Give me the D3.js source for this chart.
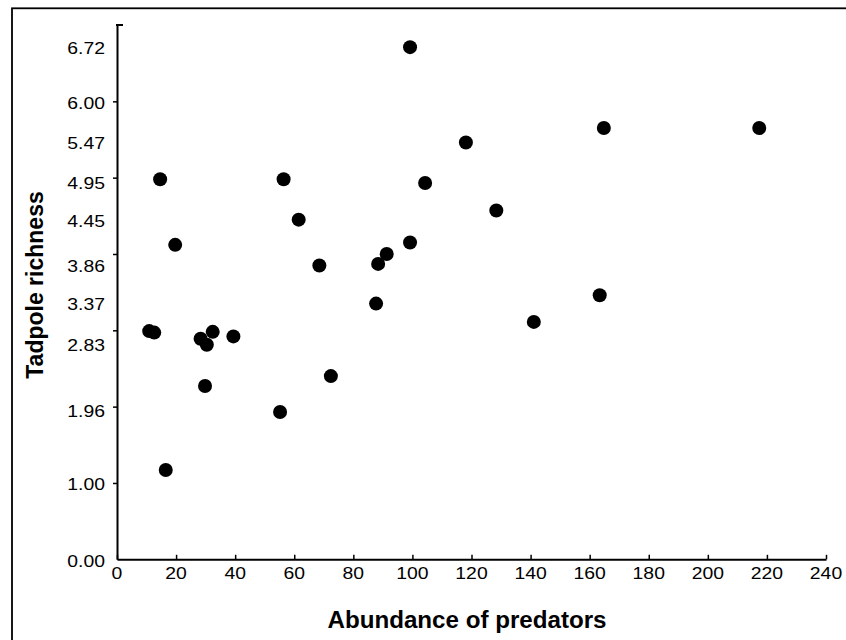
<!DOCTYPE html>
<html>
<head>
<meta charset="utf-8">
<script src="https://cdn.jsdelivr.net/npm/d3@7"></script>
<style>
  html, body { margin: 0; padding: 0; background: #fff; }
  svg { display: block; }
  text { font-family: "Liberation Sans", Arial, sans-serif; fill: #000; }
</style>
</head>
<body>
<svg id="chart" width="846" height="640"></svg>
<script>
// ---- data ----
const predators = [99.2, 164.8, 217.4, 118.1, 14.6, 56.4, 104.3, 128.4, 61.5, 19.7, 99.2, 91.3, 88.4, 68.5,
                   163.4, 87.7, 141.1, 10.9, 12.6, 32.4, 28.3, 30.4, 39.4, 29.8, 72.4, 55.2, 16.5];
const richness  = [6.71, 5.65, 5.65, 5.46, 4.98, 4.98, 4.93, 4.57, 4.45, 4.12, 4.15, 4.00, 3.87, 3.85,
                   3.46, 3.35, 3.11, 2.99, 2.97, 2.98, 2.89, 2.81, 2.92, 2.27, 2.40, 1.93, 1.17];
const xTicks = [0, 20, 40, 60, 80, 100, 120, 140, 160, 180, 200, 220, 240];
const yTickMarks = [1, 2, 3, 4, 5, 6];
const yLabels = [0.00, 1.00, 1.96, 2.83, 3.37, 3.86, 4.45, 4.95, 5.47, 6.00, 6.72];
const xTitle = "Abundance of predators";
const yTitle = "Tadpole richness";

const svg = d3.select("#chart");

// outer frame (extends beyond the picture on right and bottom)
svg.append("rect")
  .attr("x", 12).attr("y", 8.3).attr("width", 900).attr("height", 700)
  .attr("fill", "none").attr("stroke", "#000").attr("stroke-width", 1.8);

const x = d3.scaleLinear().domain([0, 240]).range([117, 826]);
const y = d3.scaleLinear().domain([0, 7]).range([559.3, 25]);

// x axis: ticks pointing inward (up)
const gx = svg.append("g").attr("transform", `translate(0,${y(0)})`)
  .call(d3.axisBottom(x).tickValues(xTicks).tickSize(-4.5).tickSizeOuter(0).tickFormat(""));
gx.select(".domain").attr("stroke", "#000").attr("stroke-width", 2);
gx.selectAll(".tick line").attr("stroke", "#000").attr("stroke-width", 1.5);

svg.append("g").selectAll("text").data(xTicks).join("text")
  .attr("transform", d => `translate(${x(d)},578.5) scale(1.14,1)`)
  .attr("text-anchor", "middle")
  .attr("font-size", 17)
  .text(d => d);

// y axis: ticks pointing outward (left)
const gy = svg.append("g").attr("transform", `translate(${x(0)},0)`)
  .call(d3.axisLeft(y).tickValues(yTickMarks).tickSize(4).tickSizeOuter(0).tickFormat(""));
gy.select(".domain").attr("stroke", "#000").attr("stroke-width", 2);
gy.selectAll(".tick line").attr("stroke", "#000").attr("stroke-width", 1.5);
// top cap
svg.append("line")
  .attr("x1", x(0) - 1).attr("x2", x(0) + 6)
  .attr("y1", y(7)).attr("y2", y(7))
  .attr("stroke", "#000").attr("stroke-width", 2);

svg.append("g").selectAll("text").data(yLabels).join("text")
  .attr("transform", d => `translate(105,${y(d) + 7.5}) scale(1.14,1)`)
  .attr("text-anchor", "end")
  .attr("font-size", 17)
  .text(d => d.toFixed(2));

// points
svg.append("g").selectAll("circle").data(predators).join("circle")
  .attr("cx", (d, i) => x(d))
  .attr("cy", (d, i) => y(richness[i]))
  .attr("r", 7)
  .attr("fill", "#000");

// titles
svg.append("text")
  .attr("transform", "translate(467,628) scale(1.05,1)")
  .attr("text-anchor", "middle")
  .attr("font-size", 23).attr("font-weight", "bold")
  .text(xTitle);

svg.append("text")
  .attr("transform", "translate(43,285) rotate(-90)")
  .attr("text-anchor", "middle")
  .attr("font-size", 23).attr("font-weight", "bold")
  .text(yTitle);
</script>
</body>
</html>
